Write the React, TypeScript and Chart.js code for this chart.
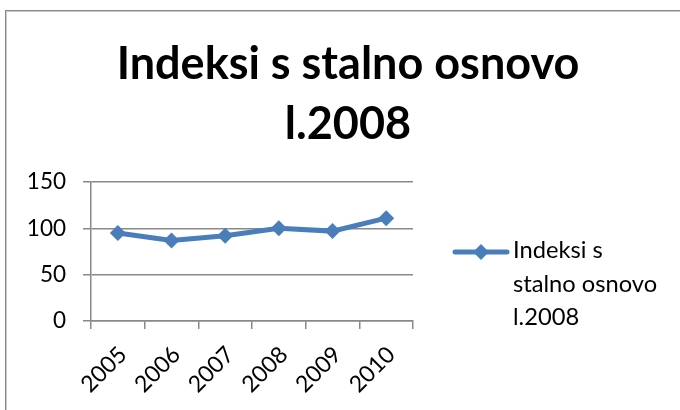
import React, { useEffect, useRef } from "react";
import { Chart, registerables } from "chart.js";

Chart.register(...registerables);

const categories = ["2005", "2006", "2007", "2008", "2009", "2010"];
const seriesName = "Indeksi s stalno osnovo l.2008";
const values = [95, 87, 92, 100, 97, 111];
const titleLines = ["Indeksi s stalno osnovo", "l.2008"];
const legendLines = ["Indeksi s", "stalno osnovo", "l.2008"];
const yTicks = [0, 50, 100, 150];

const BLUE = "#4A7EBB";
const GRID = "#898989";
const FONT = "Lato, 'Open Sans', sans-serif";

const decorPlugin = {
  id: "decor",
  afterDraw(chart: any) {
    const ctx = chart.ctx as CanvasRenderingContext2D;
    ctx.save();
    // outer frame
    ctx.strokeStyle = "#8a8a8a";
    ctx.lineWidth = 1;
    ctx.strokeRect(5.5, 10.5, 700, 420);
    ctx.strokeStyle = "#c8c8c8";
    ctx.strokeRect(6.5, 11.5, 700, 420);
    // title
    ctx.fillStyle = "#000";
    ctx.font = `bold 45px ${FONT}`;
    ctx.textAlign = "center";
    ctx.textBaseline = "alphabetic";
    ctx.fillText(titleLines[0], 348, 79);
    ctx.fillText(titleLines[1], 348, 139);
    // legend
    ctx.strokeStyle = BLUE;
    ctx.lineWidth = 5;
    ctx.lineCap = "round";
    ctx.beginPath();
    ctx.moveTo(455, 252);
    ctx.lineTo(507, 252);
    ctx.stroke();
    ctx.fillStyle = BLUE;
    ctx.beginPath();
    ctx.moveTo(481, 244);
    ctx.lineTo(489, 252);
    ctx.lineTo(481, 260);
    ctx.lineTo(473, 252);
    ctx.closePath();
    ctx.fill();
    ctx.fillStyle = "#000";
    ctx.font = `23.7px ${FONT}`;
    ctx.textAlign = "left";
    const ys = [258, 292, 325];
    legendLines.forEach((t, i) => ctx.fillText(t, 513, ys[i]));
    ctx.restore();
  },
};

export default function App() {
  const ref = useRef<HTMLCanvasElement>(null);
  useEffect(() => {
    const chart = new Chart(ref.current!, {
      type: "line",
      data: {
        labels: categories,
        datasets: [
          {
            label: seriesName,
            data: values,
            borderColor: BLUE,
            backgroundColor: BLUE,
            borderWidth: 5,
            pointStyle: "rectRot",
            pointRadius: 8,
            pointBorderWidth: 0,
            pointBackgroundColor: BLUE,
            tension: 0,
          },
        ],
      },
      options: {
        animation: false,
        responsive: false,
        maintainAspectRatio: false,
        layout: { padding: { left: 0, top: 182, right: 267, bottom: 0 } },
        plugins: {
          legend: { display: false },
          title: { display: false },
          tooltip: { enabled: false },
        },
        scales: {
          x: {
            type: "category",
            offset: true,
            grid: {
              offset: true,
              drawOnChartArea: false,
              drawTicks: true,
              tickLength: 8,
              color: GRID,
              lineWidth: 1.5,
            },
            border: { display: true, color: GRID, width: 1.5 },
            ticks: {
              color: "#000",
              font: { family: FONT, size: 23 },
              minRotation: 45,
              maxRotation: 45,
              padding: 12,
              labelOffset: 5,
              autoSkip: false,
            },
            afterFit(scale: any) {
              scale.height = 89;
            },
          },
          y: {
            min: 0,
            max: 150,
            afterBuildTicks(scale: any) {
              scale.ticks = yTicks.map((v) => ({ value: v }));
            },
            grid: {
              color: GRID,
              lineWidth: 1.5,
              tickLength: 8,
              drawTicks: true,
            },
            border: { display: true, color: GRID, width: 1.5 },
            ticks: {
              color: "#000",
              font: { family: FONT, size: 22.5 },
              padding: 17,
            },
            afterFit(scale: any) {
              scale.width = 91;
            },
          },
        },
      },
      plugins: [decorPlugin],
    } as any);
    return () => chart.destroy();
  }, []);
  return (
    <div style={{ position: "fixed", left: 0, top: 0, width: 680, height: 410, background: "#fff" }}>
      <canvas ref={ref} width={680} height={410} style={{ width: 680, height: 410 }} />
    </div>
  );
}
